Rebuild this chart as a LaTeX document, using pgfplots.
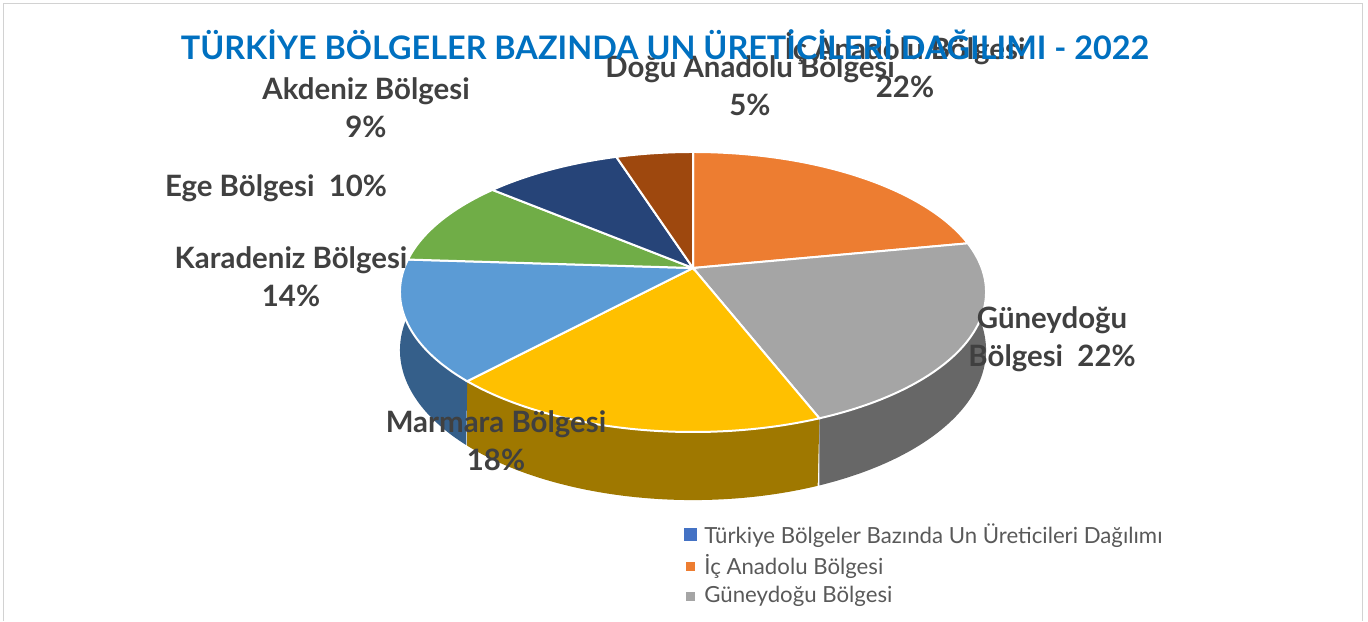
\documentclass[border=0pt]{standalone}
\usepackage{fontspec}
\setmainfont{Lato}
\usepackage{pgfplots}
\pgfplotsset{compat=1.18}

\definecolor{cIc}{HTML}{ED7D31}
\definecolor{cGun}{HTML}{A5A5A5}
\definecolor{cMar}{HTML}{FFC000}
\definecolor{cKar}{HTML}{5B9BD5}
\definecolor{cEge}{HTML}{70AD47}
\definecolor{cAkd}{HTML}{264478}
\definecolor{cDog}{HTML}{9E480E}
\definecolor{sGun}{HTML}{676767}
\definecolor{sMar}{HTML}{9F7800}
\definecolor{sKar}{HTML}{355F8A}
\definecolor{cSer}{HTML}{4472C4}
\definecolor{lab}{HTML}{404040}
\definecolor{leg}{HTML}{595959}
\definecolor{tblue}{HTML}{0070C0}

% shares in percent, clockwise from 12 o'clock
\def\pIc{22}\def\pGun{22}\def\pMar{18}\def\pKar{14}\def\pEge{10}\def\pAkd{9}\def\pDog{5}
\pgfmathsetmacro\aA{90}
\pgfmathsetmacro\aB{\aA-3.6*\pIc}
\pgfmathsetmacro\aC{\aB-3.6*\pGun}
\pgfmathsetmacro\aD{\aC-3.6*\pMar}
\pgfmathsetmacro\aE{\aD-3.6*\pKar}
\pgfmathsetmacro\aF{\aE-3.6*\pEge}
\pgfmathsetmacro\aG{\aF-3.6*\pAkd}
\pgfmathsetmacro\aH{\aG-3.6*\pDog}

\begin{document}
\begin{tikzpicture}[declare function={
  pq(\t)=1+0.1714*sin(\t);
  px(\t)=693+288.7*cos(\t)/pq(\t);
  py(\t)=(196.4*sin(\t)+353)/pq(\t);
  pd(\t)=56.4/pq(\t);
  wt(\s,\a,\b)=(\s<=1)*(\a+\s*(\b-\a))+(\s>1)*(\b-(\s-1)*(\b-\a));
}]
\begin{axis}[width=684pt,height=310.5pt,scale only axis,hide axis,clip=false,
  xmin=0,xmax=1368,ymin=0,ymax=621,
  legend style={at={(axis cs:684,102)},anchor=north west,draw=none,fill=none,
    font=\fontsize{11.1}{12}\selectfont,text=leg,row sep=0.3pt,inner sep=0pt,
    nodes={inner xsep=3.6pt}},
  legend cell align=left]
\path (rel axis cs:0,0) rectangle (rel axis cs:1,1);
\draw[gray!35] (3,0) -- (3,618) -- (1362,618) -- (1362,0);

% side walls
\addplot[forget plot,fill=sGun,draw=none,domain=0:2,samples=401,variable=\s]
  ({px(wt(\s,\aC,\aB))},{py(wt(\s,\aC,\aB))-(\s>1)*pd(wt(\s,\aC,\aB))});
\addplot[forget plot,fill=sMar,draw=none,domain=0:2,samples=401,variable=\s]
  ({px(wt(\s,\aD,\aC))},{py(wt(\s,\aD,\aC))-(\s>1)*pd(wt(\s,\aD,\aC))});
\addplot[forget plot,fill=sKar,draw=none,domain=0:2,samples=401,variable=\s]
  ({px(wt(\s,\aE,\aD))},{py(wt(\s,\aE,\aD))-(\s>1)*pd(wt(\s,\aE,\aD))});

% top faces
\addplot[forget plot,fill=cIc,draw=white,line width=1pt,domain=\aB:\aA,samples=80,variable=\t]
  ({px(\t)},{py(\t)}) -- (693,353) -- cycle;
\addplot[forget plot,fill=cGun,draw=white,line width=1pt,domain=\aC:\aB,samples=80,variable=\t]
  ({px(\t)},{py(\t)}) -- (693,353) -- cycle;
\addplot[forget plot,fill=cMar,draw=white,line width=1pt,domain=\aD:\aC,samples=80,variable=\t]
  ({px(\t)},{py(\t)}) -- (693,353) -- cycle;
\addplot[forget plot,fill=cKar,draw=white,line width=1pt,domain=\aE:\aD,samples=80,variable=\t]
  ({px(\t)},{py(\t)}) -- (693,353) -- cycle;
\addplot[forget plot,fill=cEge,draw=white,line width=1pt,domain=\aF:\aE,samples=60,variable=\t]
  ({px(\t)},{py(\t)}) -- (693,353) -- cycle;
\addplot[forget plot,fill=cAkd,draw=white,line width=1pt,domain=\aG:\aF,samples=60,variable=\t]
  ({px(\t)},{py(\t)}) -- (693,353) -- cycle;
\addplot[forget plot,fill=cDog,draw=white,line width=1pt,domain=\aH:\aG,samples=40,variable=\t]
  ({px(\t)},{py(\t)}) -- (693,353) -- cycle;

\addlegendimage{legend image code/.code={\fill[cSer] (0,-3pt) rectangle (6pt,3pt);}}
\addlegendentry{Türkiye Bölgeler Bazında Un Üreticileri Dağılımı}
\addlegendimage{legend image code/.code={\fill[cIc] (1pt,-2pt) rectangle (5pt,2pt);}}
\addlegendentry{İç Anadolu Bölgesi}
\addlegendimage{legend image code/.code={\fill[cGun] (1pt,-2pt) rectangle (5pt,2pt);}}
\addlegendentry{Güneydoğu Bölgesi}

% data labels
\begin{scope}[every node/.style={align=center,text=lab,font=\fontsize{14.7}{19}\selectfont\bfseries}]
\node at (905,556) {İç Anadolu Bölgesi\\22\%};
\node at (750,535) {Doğu Anadolu Bölgesi\\5\%};
\node at (366,513) {Akdeniz Bölgesi\\9\%};
\node at (276,433) {Ege Bölgesi~~10\%};
\node at (291,344) {Karadeniz Bölgesi\\14\%};
\node at (1052,282) {Güneydoğu\\Bölgesi~~22\%};
\node at (496,180) {Marmara Bölgesi\\18\%};
\end{scope}
\node[text=tblue,font=\fontsize{16.2}{20}\selectfont\bfseries] at (665,576)
  {TÜRKİYE BÖLGELER BAZINDA UN ÜRETİCİLERİ DAĞILIMI - 2022};
\end{axis}
\end{tikzpicture}
\end{document}
